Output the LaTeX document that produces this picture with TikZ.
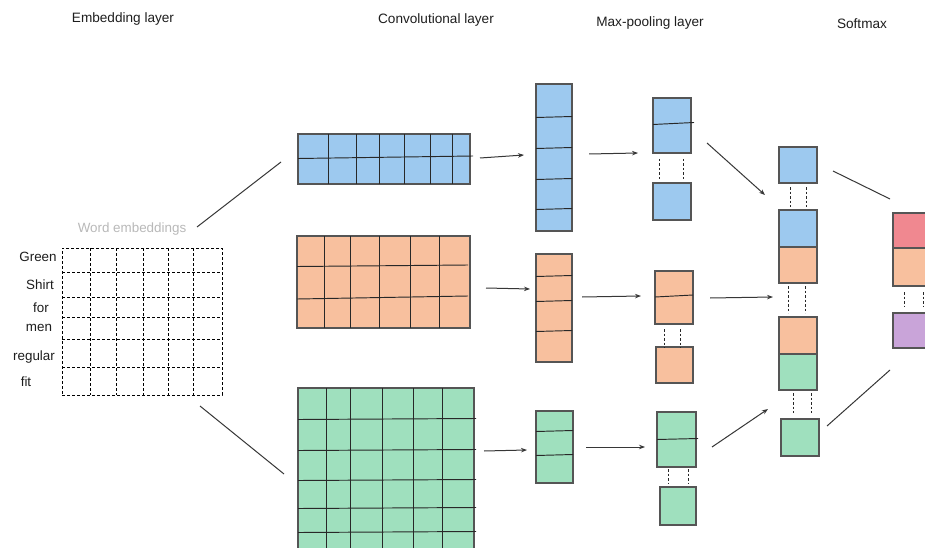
\documentclass[tikz,border=0pt]{standalone}
\usepackage{fontspec}
\setmainfont{Liberation Sans}
\usetikzlibrary{arrows.meta}
\definecolor{cblue}{RGB}{157,201,239}
\definecolor{corange}{RGB}{248,192,158}
\definecolor{cgreen}{RGB}{159,224,190}
\definecolor{cred}{RGB}{240,136,144}
\definecolor{cpurple}{RGB}{201,164,217}
\definecolor{cborder}{RGB}{85,85,85}
\definecolor{cline}{RGB}{40,40,40}
\definecolor{carrow}{RGB}{55,55,55}
\definecolor{cgraytext}{RGB}{185,185,185}
\definecolor{ctext}{RGB}{30,30,30}
\tikzset{
  box/.style={draw=cborder, line width=1.1pt, inner sep=0pt, outer sep=0pt, anchor=north west},
  gridline/.style={draw=cline, line width=0.95pt},
  dashline/.style={draw=black, line width=0.8pt, dash pattern=on 3pt off 2pt},
  gap/.style={draw=cline, line width=0.9pt, dash pattern=on 2.5pt off 2pt},
  conn/.style={draw=carrow, line width=1pt, -{Stealth[length=6pt,width=4.5pt]}},
  plain/.style={draw=carrow, line width=1pt},
  title/.style={font=\fontsize{13.6}{16}\selectfont, text=ctext, inner sep=0pt},
  word/.style={font=\fontsize{13.4}{16}\selectfont, text=ctext, inner sep=0pt},
}
\begin{document}
\begin{tikzpicture}[x=1pt,y=-1pt]
\clip (0,0) rectangle (925,548);
\fill[white] (0,0) rectangle (925,548);

% titles
\node[title] (t1) at (123,19) {Embedding layer};
\node[title] (t2) at (436,20) {Convolutional layer};
\node[title] (t3) at (650,23) {Max-pooling layer};
\node[title] (t4) at (862,24) {Softmax};

% embedding grid
\node[word, text=cgraytext] (we) at (132,229) {Word embeddings};
\node[word] (w1) at (38,257) {Green};
\node[word] (w2) at (40,285) {Shirt};
\node[word] (w3) at (41,308) {for};
\node[word] (w4) at (39,328) {men};
\node[word] (w5) at (34,357) {regular};
\node[word] (w6) at (26,382) {fit};
\node[anchor=north west, minimum width=160pt, minimum height=147pt, inner sep=0pt, outer sep=0pt, dashline] (emb) at (62,248) {};
\foreach \x in {90,116,143,168,193} \draw[dashline] (\x,248) -- (\x,395);
\foreach \y in {272,297,317,339,367} \draw[dashline] (62,\y) -- (222,\y);

% conv layer
\node[box, fill=cblue, minimum width=172pt, minimum height=50pt] (cb) at (298,134) {};
\foreach \x in {328,356,379,404,430,452} \draw[gridline] (\x,134) -- (\x,184);
\draw[gridline] (298,158.5) -- (473,156);

\node[box, fill=corange, minimum width=173pt, minimum height=92pt] (co) at (297,236) {};
\foreach \x in {324,350,379,410,439} \draw[gridline] (\x,236) -- (\x,328);
\draw[gridline] (297,266.5) -- (468,265);
\draw[gridline] (297,299) -- (468,296);

\node[box, fill=cgreen, minimum width=176pt, minimum height=175pt] (cg) at (298,388) {};
\foreach \x in {326,350,382,413,442} \draw[gridline] (\x,388) -- (\x,560);
\foreach \y in {419,450,480,508,532} \draw[gridline] (298,\y+0.5) -- (476,\y-0.5);

% conv output columns
\node[box, fill=cblue, minimum width=36pt, minimum height=147pt] (kb) at (536,84) {};
\foreach \y in {117,148,179,209} \draw[gridline] (536,\y+0.5) -- (572,\y-0.5);
\node[box, fill=corange, minimum width=36pt, minimum height=108pt] (ko) at (536,254) {};
\foreach \y in {276,301,331} \draw[gridline] (536,\y+0.5) -- (572,\y-0.5);
\node[box, fill=cgreen, minimum width=37pt, minimum height=72pt] (kg) at (536,411) {};
\foreach \y in {431,455} \draw[gridline] (536,\y+0.5) -- (573,\y-0.5);

% max-pooling
\node[box, fill=cblue, minimum width=38pt, minimum height=55pt] (mb1) at (653,98) {};
\draw[gridline] (653,124.5) -- (694,122.5);
\node[box, fill=cblue, minimum width=38pt, minimum height=37pt] (mb2) at (653,183) {};
\draw[gap] (659,159) -- (659,179);
\draw[gap] (683,159) -- (683,179);

\node[box, fill=corange, minimum width=38pt, minimum height=53pt] (mo1) at (655,271) {};
\draw[gridline] (655,297) -- (693,295);
\node[box, fill=corange, minimum width=37pt, minimum height=36pt] (mo2) at (656,347) {};
\draw[gap] (664,329) -- (664,348);
\draw[gap] (680,329) -- (680,348);

\node[box, fill=cgreen, minimum width=39pt, minimum height=55pt] (mg1) at (657,412) {};
\draw[gridline] (657,439.5) -- (698,438.5);
\node[box, fill=cgreen, minimum width=36pt, minimum height=38pt] (mg2) at (660,487) {};
\draw[gap] (668,469) -- (668,483);
\draw[gap] (688,469) -- (688,483);

% concatenation
\node[box, fill=cblue, minimum width=38pt, minimum height=36pt] (nb1) at (779,147) {};
\draw[gap] (790,187) -- (790,207);
\draw[gap] (806,187) -- (806,207);
\node[box, fill=cblue, minimum width=38pt, minimum height=37pt] (nb2) at (779,210) {};
\node[box, fill=corange, minimum width=38pt, minimum height=36pt] (no1) at (779,247) {};
\draw[gap] (788,286) -- (788,313);
\draw[gap] (805,286) -- (805,313);
\node[box, fill=corange, minimum width=38pt, minimum height=37pt] (no2) at (779,317) {};
\node[box, fill=cgreen, minimum width=38pt, minimum height=36pt] (ng1) at (779,354) {};
\draw[gap] (793,393) -- (793,413);
\draw[gap] (811,393) -- (811,413);
\node[box, fill=cgreen, minimum width=38pt, minimum height=37pt] (ng2) at (781,419) {};

% softmax
\node[box, fill=cred, minimum width=45pt, minimum height=35pt] (sr) at (893,213) {};
\node[box, fill=corange, minimum width=45pt, minimum height=38pt] (so) at (893,248) {};
\draw[gap] (904,292) -- (904,307);
\draw[gap] (923,292) -- (923,307);
\node[box, fill=cpurple, minimum width=45pt, minimum height=35pt] (sp) at (893,313) {};

% connector end points
\coordinate (a1s) at (480,158); \coordinate (a1e) at (524,155);
\coordinate (a2s) at (486,288); \coordinate (a2e) at (530,289);
\coordinate (a3s) at (484,451); \coordinate (a3e) at (527,450);
\coordinate (b1s) at (589,154); \coordinate (b1e) at (638,153);
\coordinate (b2s) at (582,297); \coordinate (b2e) at (641,296);
\coordinate (b3s) at (586,447); \coordinate (b3e) at (645,447);
\coordinate (c1s) at (707,143); \coordinate (c1e) at (765,195);
\coordinate (c2s) at (710,298); \coordinate (c2e) at (773,297);
\coordinate (c3s) at (712,447); \coordinate (c3e) at (768,409);
\coordinate (e1s) at (197,227); \coordinate (e1e) at (281,162);
\coordinate (e2s) at (200,406); \coordinate (e2e) at (284,474);
\coordinate (s1s) at (833,171); \coordinate (s1e) at (890,199);
\coordinate (s2s) at (827,426); \coordinate (s2e) at (890,370);

\draw[conn] (a1s) -- (a1e);
\draw[conn] (a2s) -- (a2e);
\draw[conn] (a3s) -- (a3e);
\draw[conn] (b1s) -- (b1e);
\draw[conn] (b2s) -- (b2e);
\draw[conn] (b3s) -- (b3e);
\draw[conn] (c1s) -- (c1e);
\draw[conn] (c2s) -- (c2e);
\draw[conn] (c3s) -- (c3e);
\draw[plain] (e1s) -- (e1e);
\draw[plain] (e2s) -- (e2e);
\draw[plain] (s1s) -- (s1e);
\draw[plain] (s2s) -- (s2e);
\end{tikzpicture}
\end{document}
